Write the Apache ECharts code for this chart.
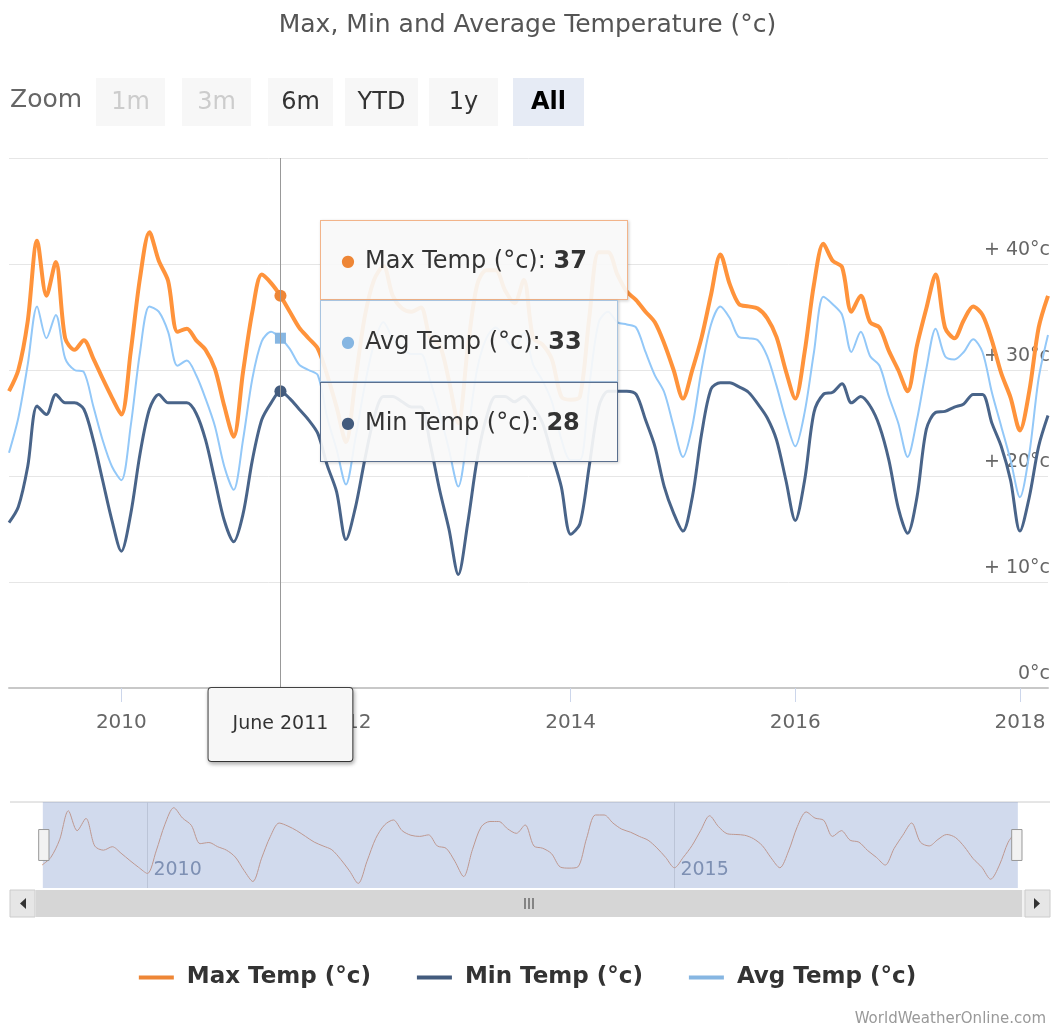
<!DOCTYPE html>
<html>
<head>
<meta charset="utf-8">
<title>Max, Min and Average Temperature</title>
<script src="https://cdn.jsdelivr.net/npm/echarts@6/dist/echarts.min.js"></script>
<style>
  html, body { margin: 0; padding: 0; background: #fff; }
  #main { width: 1055px; height: 1034px; }
</style>
</head>
<body>
<div id="main"></div>
<script>
// monthly values, Jan 2009 .. Apr 2018
var maxTemp = [
    28, 30, 34.6, 42.2, 37, 40.2, 33, 31.9, 32.8, 31.1, 29.2, 27.4,
    25.8, 31.7, 38.7, 43, 40.3, 38.4, 33.6, 33.9, 32.8, 31.9, 30.1, 26.6,
    23.7, 29.8, 35.5, 39, 38.2, 37, 35.5, 34, 33, 32, 29.5, 26.5,
    23.2, 29, 35, 38.5, 39.8, 37, 35.8, 35.5, 35.9, 33, 32.4, 29,
    25, 32, 38, 39.4, 39.4, 37.5, 36.3, 38.5, 33, 32.4, 31, 27.5,
    27.2, 27.5, 35, 41.1, 41.1, 39, 37.4, 36.6, 35.5, 34.5, 32.5, 30,
    27.3, 30, 33.1, 37.1, 40.9, 38.1, 36.2, 36, 35.8, 34.9, 33.1, 29.9,
    27.3, 31.7, 38.1, 41.9, 40.3, 39.7, 35.5, 37, 34.5, 34, 31.8, 30,
    28, 32.3, 35.8, 39, 34, 33, 34.7, 36, 35.2, 32.8, 29.7, 27.4,
    24.3, 28, 34, 37
];
var minTemp = [
    15.6, 17.1, 20.9, 26.6, 25.8, 27.7, 26.9, 26.9, 26.3, 23.4, 19.6, 15.8,
    12.9, 16.4, 22.1, 26.3, 27.7, 26.9, 26.9, 26.9, 25.9, 23.4, 19.6, 15.8,
    13.8, 16.4, 21.5, 25.3, 26.9, 28, 27.3, 26.3, 25.3, 24, 21, 18.5,
    14, 17, 21.5, 25.5, 27.5, 27.5, 27, 26.5, 26.5, 23, 18.7, 15,
    10.7, 15.5, 21.5, 25.5, 27.5, 27.5, 27, 27.5, 26.5, 25, 22, 19,
    14.5, 15.5, 21, 26.5, 28, 28, 28, 27.7, 25.3, 22.8, 19, 16.5,
    14.8, 18, 24, 28.2, 28.8, 28.8, 28.4, 27.9, 26.8, 25.5, 23.4, 19.6,
    15.8, 19.6, 26, 27.7, 27.9, 28.7, 26.9, 27.5, 26.6, 24.7, 21.5, 17,
    14.6, 18, 24.4, 26, 26.1, 26.5, 26.8, 27.7, 27.7, 25, 22.8, 19.6,
    14.8, 18, 22.8, 25.7
];
var avgTemp = [
    22.2, 25.5, 30.5, 36, 33, 35.2, 31.1, 30, 29.8, 26.6, 23.4, 20.9,
    19.6, 24.7, 31.7, 36, 35.5, 33.6, 30.4, 30.9, 29.5, 27.3, 24.7, 20.9,
    18.7, 23.4, 29.2, 32.7, 33.6, 33, 32, 30.5, 30, 29.5, 25.5, 22.5,
    19.2, 23.5, 28.5, 32.5, 34.5, 33, 32, 31.5, 31.5, 29, 26, 22.5,
    19, 24, 30, 33, 34, 33, 32, 33.5, 30.5, 29, 27, 23.5,
    21.5, 21.5, 28.5, 34.5, 35.5, 34.5, 34.3, 34, 31.7, 29.5, 27.9, 24.7,
    21.8, 24.7, 30.1, 34.3, 36, 34.9, 33.1, 33, 32.8, 31.3, 28.5, 25.3,
    22.8, 26, 31.7, 36.9, 36.2, 35.2, 31.7, 33.6, 31.3, 30.4, 27.5, 25,
    21.8, 25.3, 30.1, 33.9, 31.3, 31, 31.7, 32.9, 31.7, 27.9, 24.7, 21.5,
    18, 22.1, 29.2, 33.3
];
var seriesNames = ['Max Temp (°c)', 'Min Temp (°c)', 'Avg Temp (°c)'];
var yTicks = [0, 10, 20, 30, 40, 50];
var monthNames = ['January', 'February', 'March', 'April', 'May', 'June', 'July',
    'August', 'September', 'October', 'November', 'December'];
var zoomButtons = ['1m', '3m', '6m', 'YTD', '1y', 'All'];

// categories: one per month starting Jan 2009
var months = [];
for (var i = 0; i < maxTemp.length; i++) {
    var mm = i % 12 + 1;
    months.push((2009 + Math.floor(i / 12)) + '-' + (mm < 10 ? '0' + mm : mm));
}
var tipIndex = months.indexOf('2011-06');

var colors = ['#ee8636', '#435b7d', '#86b6e2'];
// tooltip box borders, same order as the series (max, min, avg)
var tipBorders = ['#f2b48a', '#5a6f8e', '#a8c4e0'];

function yearTick(index) { return index % 24 === 12; }
function navTick(index) { return index % 60 === 12; }

var myChart = echarts.init(document.getElementById('main'));

// zoom buttons on top (only decoration)
var btnX = [96, 182, 268, 345, 429, 513];
var btnW = [69, 69, 65, 73, 69, 71];
var buttons = [{
    type: 'text', left: 10, top: 88,
    style: { text: 'Zoom', fontSize: 25, fill: '#666', fontFamily: 'DejaVu Sans' }
}];
zoomButtons.forEach(function (b, k) {
    var off = k < 2, sel = b === 'All';
    buttons.push({
        type: 'rect', shape: { x: btnX[k], y: 78, width: btnW[k], height: 48 },
        style: { fill: sel ? '#e6ebf5' : '#f7f7f7' }
    });
    buttons.push({
        type: 'text', x: btnX[k] + btnW[k] / 2, y: 103,
        style: {
            text: b, fontSize: 24, align: 'center', verticalAlign: 'middle',
            fill: off ? '#cccccc' : (sel ? '#000' : '#333'),
            fontWeight: sel ? 'bold' : 'normal', fontFamily: 'DejaVu Sans'
        }
    });
});

// scrollbar under the navigator
var scrollbar = [
    { type: 'line', shape: { x1: 10, y1: 802, x2: 1050, y2: 802 }, style: { stroke: '#cccccc', lineWidth: 1 } },
    { type: 'rect', shape: { x: 10, y: 890, width: 1040, height: 27 }, style: { fill: '#f2f2f2' } },
    { type: 'rect', shape: { x: 36, y: 890, width: 986, height: 27 }, style: { fill: '#d6d6d6' } },
    { type: 'rect', shape: { x: 10, y: 890, width: 25, height: 27 }, style: { fill: '#e6e6e6', stroke: '#cccccc' } },
    { type: 'rect', shape: { x: 1025, y: 890, width: 25, height: 27 }, style: { fill: '#e6e6e6', stroke: '#cccccc' } },
    { type: 'polygon', shape: { points: [[26, 898], [26, 909], [20, 903.5]] }, style: { fill: '#333' } },
    { type: 'polygon', shape: { points: [[1034, 898], [1034, 909], [1040, 903.5]] }, style: { fill: '#333' } },
    { type: 'line', shape: { x1: 525, y1: 898, x2: 525, y2: 909 }, style: { stroke: '#333', lineWidth: 1 } },
    { type: 'line', shape: { x1: 529, y1: 898, x2: 529, y2: 909 }, style: { stroke: '#333', lineWidth: 1 } },
    { type: 'line', shape: { x1: 533, y1: 898, x2: 533, y2: 909 }, style: { stroke: '#333', lineWidth: 1 } }
];

var option = {
    animation: false,
    textStyle: { fontFamily: 'DejaVu Sans' },
    color: colors,
    title: [{
        text: 'Max, Min and Average Temperature (°c)',
        left: 'center', top: 8,
        textStyle: { fontSize: 25, fontWeight: 'normal', color: '#555' }
    }, {
        text: 'WorldWeatherOnline.com',
        right: 4, bottom: 2,
        textStyle: { fontSize: 15, fontWeight: 'normal', color: '#999' }
    }],
    legend: {
        data: seriesNames,
        left: 'center', top: 961,
        icon: 'rect', itemWidth: 35, itemHeight: 4, itemGap: 46,
        textStyle: { fontSize: 23, fontWeight: 'bold', color: '#333', padding: [0, 0, 0, 8] }
    },
    grid: [
        { left: 9, right: 7, top: 158, height: 530 },
        { left: 42, right: 38, top: 802, height: 86 }
    ],
    tooltip: {
        trigger: 'axis',
        triggerOn: 'none',
        alwaysShowContent: true,
        transitionDuration: 0,
        padding: 0,
        borderWidth: 0,
        backgroundColor: 'rgba(0,0,0,0)',
        extraCssText: 'box-shadow:none;border-radius:0;',
        position: function () { return [320, 220]; },
        axisPointer: { type: 'line', lineStyle: { color: '#999', width: 1, type: 'solid' } },
        formatter: function (params) {
            var list = params.filter(function (p) { return p.seriesIndex < 3; })
                .sort(function (a, b) { return b.value - a.value; });
            var heights = [80, 82, 80];
            return list.map(function (p, k) {
                return '<div style="box-sizing:border-box;width:' + (k === 0 ? 308 : 298) + 'px;height:' + heights[k] +
                    'px;border:1.5px solid ' + tipBorders[p.seriesIndex] +
                    ';background:rgba(248,248,248,0.92);display:flex;align-items:center;padding-left:20px;' +
                    'font-family:DejaVu Sans;font-size:24px;color:#333;box-shadow:1px 1px 3px rgba(0,0,0,0.2);">' +
                    '<span style="color:' + p.color + ';font-size:16px;margin-right:10px;">●</span>' +
                    p.seriesName + ':&nbsp;<b>' + Math.round(p.value) + '</b></div>';
            }).join('');
        }
    },
    xAxis: [{
        type: 'category',
        gridIndex: 0,
        data: months,
        boundaryGap: false,
        axisLine: { lineStyle: { color: '#c8c8c8', width: 2 } },
        axisTick: { interval: yearTick, length: 14, lineStyle: { color: '#ccd6eb' } },
        axisLabel: {
            interval: yearTick, margin: 25, fontSize: 20, color: '#666',
            formatter: function (v) { return v.slice(0, 4); }
        },
        splitLine: { show: false },
        axisPointer: {
            label: {
                show: true, margin: 0,
                formatter: function (p) {
                    var parts = p.value.split('-');
                    return monthNames[+parts[1] - 1] + ' ' + parts[0];
                },
                fontSize: 19, color: '#333', backgroundColor: '#f7f7f7',
                borderColor: '#444', borderWidth: 1, padding: [27, 24, 27, 24],
                shadowBlur: 4, shadowColor: 'rgba(0,0,0,0.3)', shadowOffsetX: 1, shadowOffsetY: 2
            }
        }
    }, {
        type: 'category',
        gridIndex: 1,
        data: months,
        boundaryGap: false,
        axisLine: { show: false },
        axisTick: { show: false },
        axisLabel: {
            inside: true, interval: navTick, align: 'left', margin: 8,
            fontSize: 19, color: '#8895ad', padding: [0, 0, 0, 6],
            formatter: function (v) { return v.slice(0, 4); }
        },
        splitLine: { show: true, interval: navTick, lineStyle: { color: '#e0e0e0' } },
        axisPointer: { show: false }
    }],
    yAxis: [{
        type: 'value',
        gridIndex: 0,
        position: 'right',
        min: yTicks[0], max: yTicks[yTicks.length - 1], interval: 10,
        axisLine: { show: false },
        axisTick: { show: false },
        splitLine: { lineStyle: { color: '#e6e6e6' } },
        axisLabel: {
            inside: true, margin: -2, fontSize: 19, color: '#666',
            verticalAlign: 'bottom', padding: [0, 0, 4, 0],
            formatter: function (v) {
                if (v === 50) return '';
                return v === 0 ? '0°c' : '+ ' + v + '°c';
            }
        }
    }, {
        type: 'value',
        gridIndex: 1,
        min: 22, max: 44.5,
        show: false,
        splitLine: { show: false }
    }],
    dataZoom: [{
        type: 'slider',
        xAxisIndex: 0,
        start: 0, end: 100,
        left: 42, right: 38, top: 802, height: 86,
        showDataShadow: false,
        showDetail: false,
        brushSelect: false,
        moveHandleSize: 0,
        backgroundColor: 'rgba(0,0,0,0)',
        borderColor: 'rgba(0,0,0,0)',
        fillerColor: 'rgba(102,133,194,0.3)',
        handleIcon: 'path://M0,0 L10,0 L10,30 L0,30 Z',
        handleSize: '36%',
        handleStyle: { color: '#f2f2f2', borderColor: '#999999', borderWidth: 1 }
    }],
    graphic: buttons.concat(scrollbar),
    series: [{
        name: seriesNames[0], type: 'line', data: maxTemp,
        smooth: 0.3, showSymbol: false, symbol: 'circle', symbolSize: 11,
        lineStyle: { width: 4 }, z: 3
    }, {
        name: seriesNames[1], type: 'line', data: minTemp,
        smooth: 0.3, showSymbol: false, symbol: 'circle', symbolSize: 11,
        lineStyle: { width: 3 }, z: 3
    }, {
        name: seriesNames[2], type: 'line', data: avgTemp,
        smooth: 0.3, showSymbol: false, symbol: 'rect', symbolSize: 10,
        lineStyle: { width: 2 }, z: 4
    }, {
        name: 'navigator', type: 'line', data: maxTemp,
        xAxisIndex: 1, yAxisIndex: 1, smooth: 0.3,
        showSymbol: false, silent: true,
        lineStyle: { width: 1, color: '#e3a07a' }, itemStyle: { color: '#e3a07a' }
    }]
};

myChart.setOption(option);
myChart.dispatchAction({ type: 'showTip', seriesIndex: 0, dataIndex: tipIndex });
</script>
</body>
</html>
